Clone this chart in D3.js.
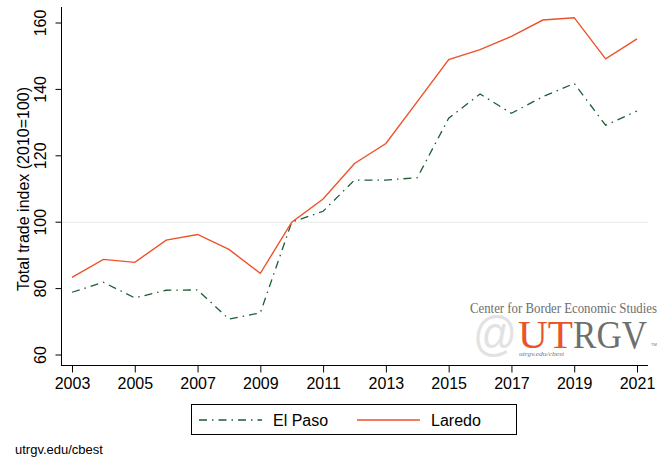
<!DOCTYPE html>
<html>
<head>
<meta charset="utf-8">
<script src="https://cdn.jsdelivr.net/npm/d3@7"></script>
<style>
  body { margin: 0; background: #fff; }
</style>
</head>
<body>
<svg id="chart" width="664" height="458" font-family="'Liberation Sans', Arial, sans-serif"></svg>
<script>
// values
var years = [2003, 2004, 2005, 2006, 2007, 2008, 2009, 2010, 2011, 2012,
             2013, 2014, 2015, 2016, 2017, 2018, 2019, 2020, 2021];
var elPaso = [78.9, 81.9, 77.2, 79.5, 79.6, 70.8, 72.7, 100, 103.3, 112.7,
              112.7, 113.4, 131.3, 138.6, 132.8, 137.8, 141.8, 129.2, 133.5];
var laredo = [83.4, 88.8, 87.9, 94.6, 96.3, 91.8, 84.6, 100, 107, 117.7,
              123.7, 136.3, 149.0, 152.0, 156.0, 160.9, 161.6, 149.2, 155.2];
var xTicks = [2003, 2005, 2007, 2009, 2011, 2013, 2015, 2017, 2019, 2021];
var yTicks = [60, 80, 100, 120, 140, 160];

var serif = "'Liberation Serif', 'DejaVu Serif', serif";
var green = "#1b5e33", orange = "#ec5329";

var svg = d3.select("#chart");

var x = d3.scaleLinear().domain([2003, 2021]).range([72, 637]);
var y = d3.scaleLinear().domain([60, 160]).range([355, 23]);

// reference line at 100
svg.append("line")
  .attr("x1", 61).attr("x2", 648)
  .attr("y1", y(100)).attr("y2", y(100))
  .attr("stroke", "#e8e8e8").attr("stroke-width", 1);

// x axis
var xAxis = svg.append("g")
  .attr("transform", "translate(0,365.5)")
  .call(d3.axisBottom(x).tickValues(xTicks).tickFormat(d3.format("d")).tickSize(7).tickSizeOuter(0));
xAxis.select(".domain").attr("d", "M61,0H648");
xAxis.selectAll("text").attr("font-size", 16).attr("fill", "#000").attr("y", 9).attr("dy", "0.9em");

// y axis
var yAxis = svg.append("g")
  .attr("transform", "translate(61.5,0)")
  .call(d3.axisLeft(y).tickValues(yTicks).tickSize(6).tickSizeOuter(0));
yAxis.select(".domain").attr("d", "M0,7V365.5");
yAxis.selectAll(".tick").attr("transform", null);
yAxis.selectAll(".tick line").attr("y1", function(d) { return y(d); }).attr("y2", function(d) { return y(d); });
yAxis.selectAll(".tick text")
  .attr("x", null).attr("y", null).attr("dy", null)
  .attr("font-size", 16).attr("fill", "#000")
  .attr("text-anchor", "middle")
  .attr("transform", function(d) { return "translate(-16," + y(d) + ") rotate(-90)"; });
svg.selectAll(".domain, .tick line").attr("stroke", "#000");

svg.append("text")
  .attr("transform", "translate(29,189) rotate(-90)")
  .attr("text-anchor", "middle")
  .attr("font-size", 16)
  .text("Total trade index (2010=100)");

// lines
var line = function(vals) {
  return d3.line()
    .x(function(d, i) { return x(years[i]); })
    .y(function(d) { return y(d); })(vals);
};

svg.append("path")
  .attr("d", line(elPaso))
  .attr("fill", "none")
  .attr("stroke", green)
  .attr("stroke-width", 1.3)
  .attr("stroke-dasharray", "8,5,1.5,5");

svg.append("path")
  .attr("d", line(laredo))
  .attr("fill", "none")
  .attr("stroke", orange)
  .attr("stroke-width", 1.4);

// logo
var logo = svg.append("g");
logo.append("text")
  .attr("x", 470).attr("y", 313)
  .attr("font-family", serif)
  .attr("font-size", 15)
  .attr("textLength", 187).attr("lengthAdjust", "spacingAndGlyphs")
  .attr("fill", "#6d6d6d")
  .text("Center for Border Economic Studies");
logo.append("text")
  .attr("x", 473).attr("y", 350)
  .attr("font-size", 48)
  .attr("textLength", 44).attr("lengthAdjust", "spacingAndGlyphs")
  .attr("fill", "#e2e2e2")
  .text("@");
logo.append("text")
  .attr("x", 518).attr("y", 348)
  .attr("font-family", serif)
  .attr("font-size", 40)
  .attr("textLength", 55).attr("lengthAdjust", "spacingAndGlyphs")
  .attr("fill", "#e8552a")
  .text("UT");
logo.append("text")
  .attr("x", 573).attr("y", 348)
  .attr("font-family", serif)
  .attr("font-size", 40)
  .attr("textLength", 74).attr("lengthAdjust", "spacingAndGlyphs")
  .attr("fill", "#6f6f6f")
  .text("RGV");
logo.append("text")
  .attr("x", 651).attr("y", 346)
  .attr("font-size", 4)
  .attr("fill", "#707070")
  .text("TM");
logo.append("text")
  .attr("x", 519).attr("y", 356)
  .attr("font-family", serif)
  .attr("font-style", "italic")
  .attr("font-size", 7)
  .attr("textLength", 45).attr("lengthAdjust", "spacingAndGlyphs")
  .attr("fill", "#777")
  .text("utrgv.edu/cbest");

// legend
var legend = svg.append("g");
legend.append("rect")
  .attr("x", 191.5).attr("y", 404.5)
  .attr("width", 325).attr("height", 30)
  .attr("fill", "#fff").attr("stroke", "#000").attr("stroke-width", 1);
legend.append("line")
  .attr("x1", 199).attr("x2", 262).attr("y1", 420).attr("y2", 420)
  .attr("stroke", green).attr("stroke-width", 1.3)
  .attr("stroke-dasharray", "8,5,1.5,5");
legend.append("text")
  .attr("x", 273).attr("y", 426)
  .attr("font-size", 16)
  .text("El Paso");
legend.append("line")
  .attr("x1", 357).attr("x2", 420).attr("y1", 420).attr("y2", 420)
  .attr("stroke", orange).attr("stroke-width", 1.4);
legend.append("text")
  .attr("x", 431).attr("y", 426)
  .attr("font-size", 16)
  .text("Laredo");

svg.append("text")
  .attr("x", 15).attr("y", 454)
  .attr("font-size", 13)
  .text("utrgv.edu/cbest");
</script>
</body>
</html>
